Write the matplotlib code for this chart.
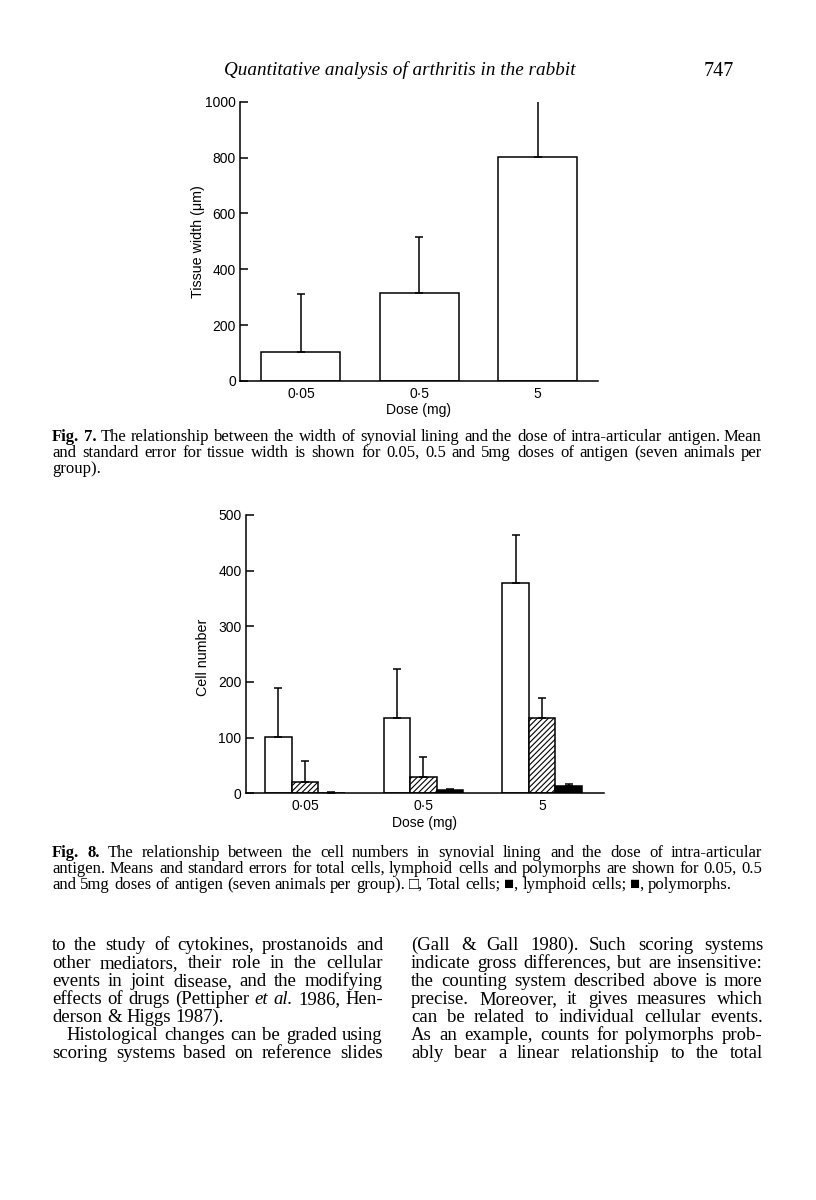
"""Page 747 — synovial lining width and cell counts vs antigen dose (Figs 7 and 8)."""
import numpy as np
import matplotlib
matplotlib.use("Agg")
import matplotlib.pyplot as plt
from matplotlib.transforms import IdentityTransform

plt.rcParams["hatch.linewidth"] = 0.8

W, H, DPI = 816, 1200, 100
SANS = ["Liberation Sans", "DejaVu Sans"]
SERIF = "Liberation Serif"
SYMB = ["Liberation Serif", "DejaVu Serif", "DejaVu Sans"]

# ---- data
doses = ["0·05", "0·5", "5"]
width_mean = [105, 314, 803]
width_se = [207, 203, 204]
total_mean = [101, 135, 378]
total_se = [88, 89, 86]
lymph_mean = [21, 30, 135]
lymph_se = [37, 36, 37]
poly_mean = [1, 6, 14]
poly_se = [2, 2, 3]
width_ticks = [0, 200, 400, 600, 800, 1000]
cell_ticks = [0, 100, 200, 300, 400, 500]

cap7 = ["*Fig. *7. The relationship between the width of synovial lining and the dose of intra-articular antigen. Mean",
        "and standard error for tissue width is shown for 0.05, 0.5 and 5mg doses of antigen (seven animals per",
        "group)."]
cap8 = ["*Fig. *8. The relationship between the cell numbers in synovial lining and the dose of intra-articular",
        "antigen. Means and standard errors for total cells, lymphoid cells and polymorphs are shown for 0.05, 0.5",
        "and 5mg doses of antigen (seven animals per group). □, Total cells; ■, lymphoid cells; ■, polymorphs."]
col_left = ["to the study of cytokines, prostanoids and",
            "other mediators, their role in the cellular",
            "events in joint disease, and the modifying",
            "effects of drugs (Pettipher _et _al. 1986, Hen-",
            "derson & Higgs 1987).",
            "Histological changes can be graded using",
            "scoring systems based on reference slides"]
col_right = ["(Gall & Gall 1980). Such scoring systems",
             "indicate gross differences, but are insensitive:",
             "the counting system described above is more",
             "precise. Moreover, it gives measures which",
             "can be related to individual cellular events.",
             "As an example, counts for polymorphs prob-",
             "ably bear a linear relationship to the total"]

fig = plt.figure(figsize=(W / DPI, H / DPI), dpi=DPI)
fig.patch.set_facecolor("white")


def px_axes(left, right, top, bottom):
    return fig.add_axes([left / W, 1 - bottom / H, (right - left) / W, (bottom - top) / H])


def style_axes(ax, ymax, ticks):
    ax.set_ylim(0, ymax)
    for s in ("top", "right"):
        ax.spines[s].set_visible(False)
    for s in ("left", "bottom"):
        ax.spines[s].set_linewidth(1.1)
    ax.set_yticks(ticks)
    ax.tick_params(axis="y", direction="in", length=6, width=1.1, labelsize=10, pad=3)
    ax.tick_params(axis="x", length=0, labelsize=10, pad=4)
    for lab in ax.get_xticklabels() + ax.get_yticklabels():
        lab.set_family(SANS)
    ax.set_xlabel("Dose (mg)", fontsize=10, family=SANS, labelpad=2)


def put_line(line, x0, x1, y, size, justify=True):
    r = fig.canvas.get_renderer()
    arts = []
    for w in line.split(" "):
        kw = {"family": SERIF}
        if w.startswith("*"):
            w = w[1:]; kw["fontweight"] = "bold"
        elif w.startswith("_"):
            w = w[1:]; kw["fontstyle"] = "italic"
        if any(c in w for c in "□■"):
            kw["family"] = SYMB
        arts.append(fig.text(0, H - y, w, transform=IdentityTransform(), fontsize=size,
                             va="baseline", ha="left", **kw))
    widths = [t.get_window_extent(r).width for t in arts]
    gap = size * 0.25 * DPI / 72
    if justify and len(arts) > 1:
        gap = (x1 - x0 - sum(widths)) / (len(arts) - 1)
    x = x0
    for t, wd in zip(arts, widths):
        t.set_x(round(x))
        x += wd + gap


# ---- running head
fig.text(400 / W, 1 - 70 / H, "Quantitative analysis of arthritis in the rabbit",
         family=SERIF, style="italic", fontsize=13.8, ha="center", va="center")
fig.text(719 / W, 1 - 72 / H, "747", family=SERIF, fontsize=14.5, ha="center", va="center")

# ---- Fig 7
x = np.arange(len(doses))
ax = px_axes(240, 598, 101.7, 381)
ax.bar(x, width_mean, width=0.667, color="white", edgecolor="black", lw=1.1)
ax.errorbar(x, width_mean, yerr=[np.zeros(3), width_se], fmt="none", ecolor="black",
            elinewidth=1.1, capsize=2.6, capthick=1.1)
ax.set_xlim(-0.515, 2.51)
ax.set_xticks(x, doses)
style_axes(ax, 1000, width_ticks)
ax.set_ylabel("Tissue width (μm)", fontsize=10.3, family=SANS, va="center")
ax.yaxis.set_label_coords(-42 / 358, 0.5)

# ---- Fig 8
bw = 0.2236
ax = px_axes(245.7, 604, 515, 793.3)
ax.bar(x - bw, total_mean, width=bw, color="white", edgecolor="black", lw=1.1)
ax.bar(x, lymph_mean, width=bw, color="white", edgecolor="black", lw=1.1, hatch="//////")
ax.bar(x + bw, poly_mean, width=bw, color="black", edgecolor="black", lw=1.1)
for off, m, se in ((-bw, total_mean, total_se), (0, lymph_mean, lymph_se), (bw, poly_mean, poly_se)):
    ax.errorbar(x + off, m, yerr=[np.zeros(3), se], fmt="none", ecolor="black",
                elinewidth=1.1, capsize=2.6, capthick=1.1)
ax.set_xlim(-0.5, 2.523)
ax.set_xticks(x, doses)
style_axes(ax, 500, cell_ticks)
ax.set_ylabel("Cell number", fontsize=10.3, family=SANS, va="center")
ax.yaxis.set_label_coords(-42.7 / 358.3, 0.49)

# ---- captions and body text
for i, line in enumerate(cap7):
    put_line(line, 52, 762, 441 + 16 * i, 12, justify=i < 2)
for i, line in enumerate(cap8):
    put_line(line, 52, 762, 857 + 16 * i, 12, justify=i < 2)
for i, line in enumerate(col_left):
    put_line(line, 66 if i == 5 else 52, 383, 950 + 18 * i, 13.5, justify=i != 4)
for i, line in enumerate(col_right):
    put_line(line, 411, 763, 950 + 18 * i, 13.5)

fig.savefig("out.png", dpi=DPI, facecolor="white")
